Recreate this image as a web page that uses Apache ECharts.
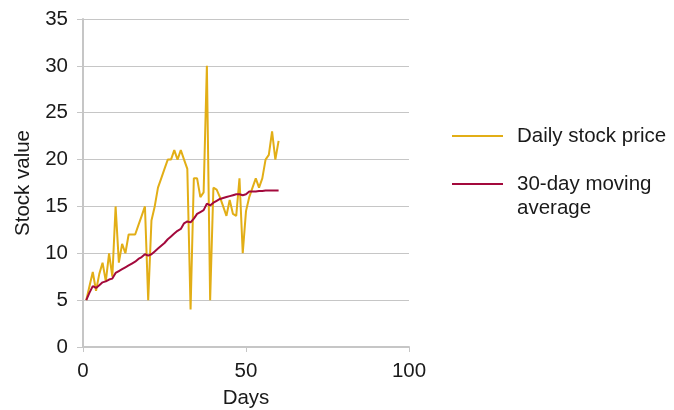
<!DOCTYPE html>
<html>
<head>
<meta charset="utf-8">
<script src="https://cdn.jsdelivr.net/npm/echarts@6/dist/echarts.min.js"></script>
<style>
html,body{margin:0;padding:0;background:#fff;}
#chart{width:674px;height:410px;}
</style>
</head>
<body>
<div id="chart"></div>
<script>
const days = [1,2,3,4,5,6,7,8,9,10,11,12,13,14,15,16,17,18,19,20,21,22,23,24,25,26,27,28,29,30,31,32,33,34,35,36,37,38,39,40,41,42,43,44,45,46,47,48,49,50,51,52,53,54,55,56,57,58,59,60];
const dailyPrice = [5,6.5,8,6,7.8,9,7,10,7.5,15,9,11,10,12,12,12,13,14,15,5,13.5,15,17,18,19,20,20,21,20,21,20,19,4,18,18,16,16.5,30,5,17,16.8,16,15,14,15.7,14.2,14,18,10,14.5,16,17,18,17,18,20,20.5,23,20,22];
const movingAvg = [5,5.8,6.5,6.3,6.6,6.9,7.0,7.2,7.3,7.9,8.1,8.3,8.5,8.7,8.9,9.1,9.4,9.6,9.9,9.75,9.9,10.2,10.5,10.8,11.1,11.5,11.8,12.1,12.4,12.6,13.2,13.4,13.3,13.7,14.2,14.4,14.6,15.3,15.1,15.4,15.6,15.8,15.9,16.0,16.1,16.2,16.3,16.3,16.2,16.3,16.6,16.6,16.6,16.65,16.65,16.7,16.7,16.7,16.7,16.7];
const xTicks = [0,50,100];
const yTicks = [0,5,10,15,20,25,30,35];
const seriesNames = ['Daily stock price','30-day moving average'];

const FONT = '"Liberation Sans", Arial, Helvetica, sans-serif';
const TXT = '#1a1a1a';
const FS = 20.5;
const chart = echarts.init(document.getElementById('chart'), null, {renderer:'canvas'});
const legendBase = {
  orient:'vertical', left:452, padding:0, itemGap:0,
  itemWidth:51, itemHeight:2, icon:'rect'
};
chart.setOption({
  animation:false,
  backgroundColor:'#fff',
  textStyle:{fontFamily:FONT},
  grid:{left:83, top:19, width:326, height:328, containLabel:false, outerBoundsMode:'none'},
  xAxis:{
    type:'value', min:xTicks[0], max:xTicks[xTicks.length-1], interval:xTicks[1]-xTicks[0],
    name:'Days', nameLocation:'middle', nameGap:41,
    nameTextStyle:{fontSize:FS, color:TXT, fontFamily:FONT},
    axisLine:{lineStyle:{color:'#c6c6c6', width:2}},
    axisTick:{show:true, length:5, lineStyle:{color:'#c6c6c6', width:1}},
    axisLabel:{fontSize:FS, color:TXT, margin:14, fontFamily:FONT},
    splitLine:{show:false}
  },
  yAxis:{
    type:'value', min:yTicks[0], max:yTicks[yTicks.length-1], interval:yTicks[1]-yTicks[0],
    name:'Stock value', nameLocation:'middle', nameGap:49, nameRotate:90,
    nameTextStyle:{fontSize:FS, color:TXT, fontFamily:FONT},
    axisLine:{show:true, lineStyle:{color:'#c6c6c6', width:2}},
    axisTick:{show:true, length:6, lineStyle:{color:'#c6c6c6', width:1}},
    axisLabel:{fontSize:FS, color:TXT, margin:15, fontFamily:FONT},
    splitLine:{show:true, lineStyle:{color:'#c6c6c6', width:1}}
  },
  legend:[
    Object.assign({}, legendBase, {
      top:124,
      textStyle:{fontSize:FS, color:TXT, fontFamily:FONT, lineHeight:24, padding:[0,0,0,9]},
      data:[seriesNames[0]]
    }),
    Object.assign({}, legendBase, {
      top:148,
      textStyle:{fontSize:FS, color:TXT, fontFamily:FONT, lineHeight:24, padding:[0,0,0,9]},
      formatter:function(){ return ' \n30-day moving\naverage'; },
      data:[seriesNames[1]]
    })
  ],
  series:[
    {name:seriesNames[0], type:'line', data:days.map((d,i)=>[d,dailyPrice[i]]), symbol:'none',
     lineStyle:{color:'#E2AE16', width:2}, itemStyle:{color:'#E2AE16'}},
    {name:seriesNames[1], type:'line', data:days.map((d,i)=>[d,movingAvg[i]]), symbol:'none',
     lineStyle:{color:'#A3093C', width:2}, itemStyle:{color:'#A3093C'}}
  ]
});
</script>
</body>
</html>
